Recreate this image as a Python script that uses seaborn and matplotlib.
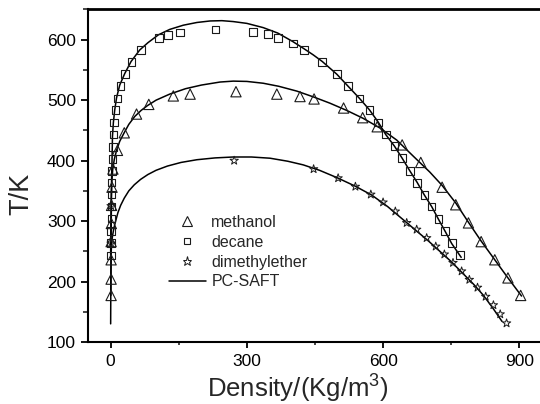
import numpy as np
import pandas as pd
import matplotlib
matplotlib.use("Agg")
import matplotlib.pyplot as plt
import seaborn as sns
from matplotlib.lines import Line2D
from matplotlib.ticker import MultipleLocator

# ---------------- data ----------------
methanol_rho = [1, 1, 1, 1, 1.5, 2, 3, 5, 15, 30, 57, 84, 138, 175, 276, 366, 417,
                448, 513, 555, 587, 642, 683, 730, 760, 788, 816, 846, 875, 903]
methanol_T = [177, 204, 236, 266, 296, 326, 356, 386, 417, 446, 477, 493, 507, 510, 514,
              510, 506, 502, 487, 471, 456, 426, 397, 356, 327, 297, 266, 236, 206, 177]

decane_rho = [1, 1, 1, 1.5, 1.5, 2, 2, 3, 4, 5, 6, 8, 11, 15, 22, 32, 46, 67, 106, 126,
              153, 231, 313, 346, 368, 401, 426, 466, 498, 523, 548, 570, 589, 606, 625,
              642, 659, 675, 691, 707, 722, 737, 752, 769]
decane_T = [243, 264, 284, 304, 324, 344, 364, 383, 403, 423, 443, 463, 484, 503, 523, 543,
            563, 583, 603, 608, 612, 617, 613, 609, 603, 594, 583, 563, 543, 523, 503, 484,
            463, 443, 424, 404, 383, 363, 343, 324, 303, 284, 264, 244]

dme_rho = [1, 1, 272, 447, 501, 539, 573, 600, 627, 652, 674, 696, 716, 735, 754, 773,
           790, 808, 826, 843, 858, 872]
dme_T = [263, 325, 400, 386, 371, 357, 344, 331, 316, 297, 286, 272, 258, 245, 231, 217,
         203, 190, 175, 161, 146, 131]

# PC-SAFT curves
saft_methanol_rho = [0.5, 0.8, 1.2, 1.7, 2.5, 4.5, 8, 13, 20, 29, 40, 53, 67, 81, 100,
                     130, 165, 200, 241, 270, 300, 336, 370, 410, 448, 483, 520, 556,
                     593, 630, 667, 703, 730, 760, 788, 815, 845, 875, 905]
saft_methanol_T = [177, 230, 290, 335, 365, 385, 402, 417, 432, 445, 460, 473, 483, 491,
                   500, 510, 519, 525, 530, 531.5, 531, 528, 523, 515, 505, 495, 483,
                   470, 454, 434, 407, 381, 359, 330, 298, 268, 237, 206, 176]

saft_decane_rho = [0, 0.5, 1.5, 3, 4, 6, 9, 13, 20, 31, 45, 64, 82, 105, 130, 160, 190,
                   219, 245, 270, 300, 336, 368, 401, 426, 446, 466, 498, 523, 548, 570,
                   589, 606, 625, 642, 659, 675, 691, 707, 722, 736, 751, 772]
saft_decane_T = [243, 300, 350, 400, 440, 463, 484, 504, 525, 544, 564, 583, 595, 608,
                 617, 624, 628.5, 631, 631.5, 630, 627, 620, 611, 597, 585, 575, 564,
                 543, 523, 503, 484, 464, 443, 424, 404, 383, 364, 343, 324, 303, 284,
                 263, 240]

saft_dme_rho = [0, 0.3, 0.6, 1, 2, 4, 7, 11, 16, 22, 30, 40, 52, 66, 82, 100, 125, 155,
                190, 230, 270, 310, 351, 390, 424, 460, 498, 538, 575, 610, 640, 670,
                700, 725, 750, 775, 800, 820, 840, 862]
saft_dme_T = [130, 180, 220, 245, 262, 275, 288, 300, 314, 326, 338, 350, 360, 369, 377,
              384, 391, 397, 401.5, 404.5, 406, 406, 404, 399, 393, 384, 372, 358, 343,
              324, 305, 286, 267, 250, 233, 214, 195, 178, 158, 134]

legend_labels = ["methanol", "decane", "dimethylether", "PC-SAFT"]
x_ticks = [0, 300, 600, 900]
y_ticks = [100, 200, 300, 400, 500, 600]

# ---------------- style ----------------
sns.set_style("ticks")
plt.rcParams['font.family'] = ['Liberation Sans', 'DejaVu Sans']
plt.rcParams['mathtext.fontset'] = 'custom'
plt.rcParams['mathtext.rm'] = 'Liberation Sans'
plt.rcParams['mathtext.default'] = 'regular'

W, H = 540, 404
fig = plt.figure(figsize=(W / 100, H / 100), dpi=100)
L, R, T, B = 87.5, 540, 9.3, 342
ax = fig.add_axes([L / W, 1 - B / H, (R - L) / W, (B - T) / H])

edge = "#1a1a1a"
lw_line = 1.1

for xs, ys in [(saft_methanol_rho, saft_methanol_T),
               (saft_decane_rho, saft_decane_T),
               (saft_dme_rho, saft_dme_T)]:
    sns.lineplot(x=xs, y=ys, sort=False, estimator=None, color="black",
                 lw=lw_line, ax=ax, legend=False)

sns.scatterplot(x=methanol_rho, y=methanol_T, marker="^", s=55, facecolor="none",
                edgecolor=edge, linewidth=0.8, ax=ax, zorder=3)
sns.scatterplot(x=decane_rho, y=decane_T, marker="s", s=30, facecolor="none",
                edgecolor=edge, linewidth=0.8, ax=ax, zorder=3)
sns.scatterplot(x=dme_rho, y=dme_T, marker="*", s=40, facecolor="none",
                edgecolor=edge, linewidth=0.7, ax=ax, zorder=3)

ax.set_xlim(-51, 945.6)
ax.set_ylim(100, 650.3)
ax.set_xticks(x_ticks)
ax.set_yticks(y_ticks)
ax.xaxis.set_minor_locator(MultipleLocator(150))
ax.yaxis.set_minor_locator(MultipleLocator(50))
ax.tick_params(axis="both", which="major", direction="out", length=5.3, width=1.3,
               labelsize=12.5, color="black", labelcolor="black")
ax.tick_params(axis="y", which="major", pad=3)
ax.tick_params(axis="x", which="major", length=4.5, pad=4)
ax.tick_params(axis="y", which="minor", direction="out", length=3.5, width=1.2)
ax.tick_params(axis="x", which="minor", direction="out", length=2.5, width=1.2)

for side in ["left", "bottom"]:
    ax.spines[side].set_linewidth(1.5)
    ax.spines[side].set_color("black")
ax.spines["top"].set_linewidth(2.0)
ax.spines["top"].set_color("black")
ax.spines["top"].set_visible(True)
ax.spines["right"].set_visible(False)

ax.set_xlabel(r"Density/(Kg/m$^{3}$)", fontsize=18.5)
ax.set_ylabel("T/K", fontsize=19.5)
ax.xaxis.set_label_coords(0.464, -0.093)
ax.yaxis.set_label_coords(-0.117, 0.445)

handles = [
    Line2D([], [], ls="", marker="^", ms=7.0, mfc="none", mec=edge, mew=0.8),
    Line2D([], [], ls="", marker="s", ms=5.0, mfc="none", mec=edge, mew=0.8),
    Line2D([], [], ls="", marker="*", ms=6.5, mfc="none", mec=edge, mew=0.7),
    Line2D([], [], color="black", lw=lw_line),
]
ax.legend(handles, legend_labels, loc="upper left",
          bbox_to_anchor=((169 - L) / (R - L), (B - 215) / (B - T)),
          frameon=False, fontsize=11.5, handlelength=2.3, handletextpad=0.35,
          labelspacing=0.3, borderpad=0, borderaxespad=0)

fig.savefig("out.png", dpi=100)
